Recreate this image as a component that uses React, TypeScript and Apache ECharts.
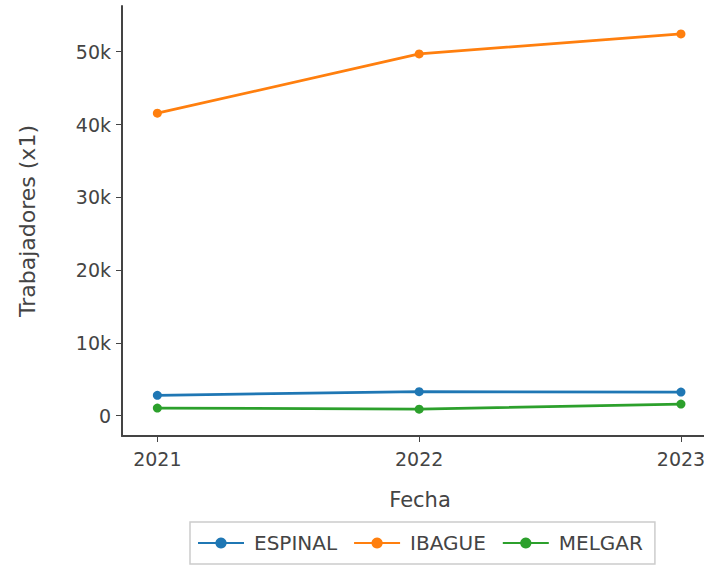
import React, { useEffect, useRef } from "react";
import * as echarts from "echarts";

const years = [2021, 2022, 2023];
const espinal = [2800, 3300, 3250];
const ibague = [41550, 49700, 52450];
const melgar = [1050, 900, 1600];
const yTicks = [0, 10000, 20000, 30000, 40000, 50000];
const seriesNames = ["ESPINAL", "IBAGUE", "MELGAR"];
const colors = ["#1f77b4", "#ff7f0e", "#2ca02c"];

const FONT = "DejaVu Sans";

export default function App() {
  const ref = useRef<HTMLDivElement>(null);
  useEffect(() => {
    document.body.style.margin = "0";
    document.body.style.overflow = "hidden";
    const chart = echarts.init(ref.current!, null, { renderer: "svg" });
    const data = [espinal, ibague, melgar];
    chart.setOption({
      animation: false,
      textStyle: { fontFamily: FONT },
      grid: { left: 122, right: 6, top: 6, bottom: 130 },
      legend: {
        left: 190,
        top: 522,
        data: seriesNames,
        borderColor: "#cccccc",
        borderWidth: 1.5,
        padding: [11, 12, 11, 7],
        itemGap: 16,
        itemWidth: 46,
        itemHeight: 14,
        textStyle: { fontFamily: FONT, fontSize: 20, color: "#444", padding: [0, 0, 0, 5] },
      },
      xAxis: {
        type: "value",
        min: 2020.865,
        max: 2023.088,
        name: "Fecha",
        nameLocation: "middle",
        nameGap: 53,
        nameTextStyle: { fontFamily: FONT, fontSize: 21, color: "#444", padding: [0, 0, 0, 14] },
        axisLine: { show: true, onZero: false, lineStyle: { color: "#444", width: 2 } },
        axisTick: { show: true, length: 6, lineStyle: { color: "#444", width: 1 }, customValues: years },
        axisLabel: {
          customValues: years,
          fontFamily: FONT,
          fontSize: 19,
          color: "#444",
          margin: 13,
          formatter: (v: number) => String(Math.round(v)),
        },
        splitLine: { show: false },
      },
      yAxis: {
        type: "value",
        min: -2790,
        max: 56280,
        name: "Trabajadores (x1)",
        nameLocation: "middle",
        nameGap: 84,
        nameTextStyle: { fontFamily: FONT, fontSize: 22, color: "#444" },
        axisLine: { show: true, onZero: false, lineStyle: { color: "#444", width: 2 } },
        axisTick: { show: true, length: 6, lineStyle: { color: "#444", width: 1 }, customValues: yTicks },
        axisLabel: {
          customValues: yTicks,
          fontFamily: FONT,
          fontSize: 19,
          color: "#444",
          margin: 11,
          formatter: (v: number) => (v === 0 ? "0" : v / 1000 + "k"),
        },
        splitLine: { show: false },
      },
      series: seriesNames.map((n, i) => ({
        name: n,
        type: "line",
        data: years.map((y, j) => [y, data[i][j]]),
        symbol: "circle",
        symbolSize: 9,
        color: colors[i],
        lineStyle: { width: 2.8, color: colors[i] },
        itemStyle: { color: colors[i] },
      })),
    });
    return () => chart.dispose();
  }, []);
  return <div ref={ref} style={{ width: 710, height: 566 }} />;
}
